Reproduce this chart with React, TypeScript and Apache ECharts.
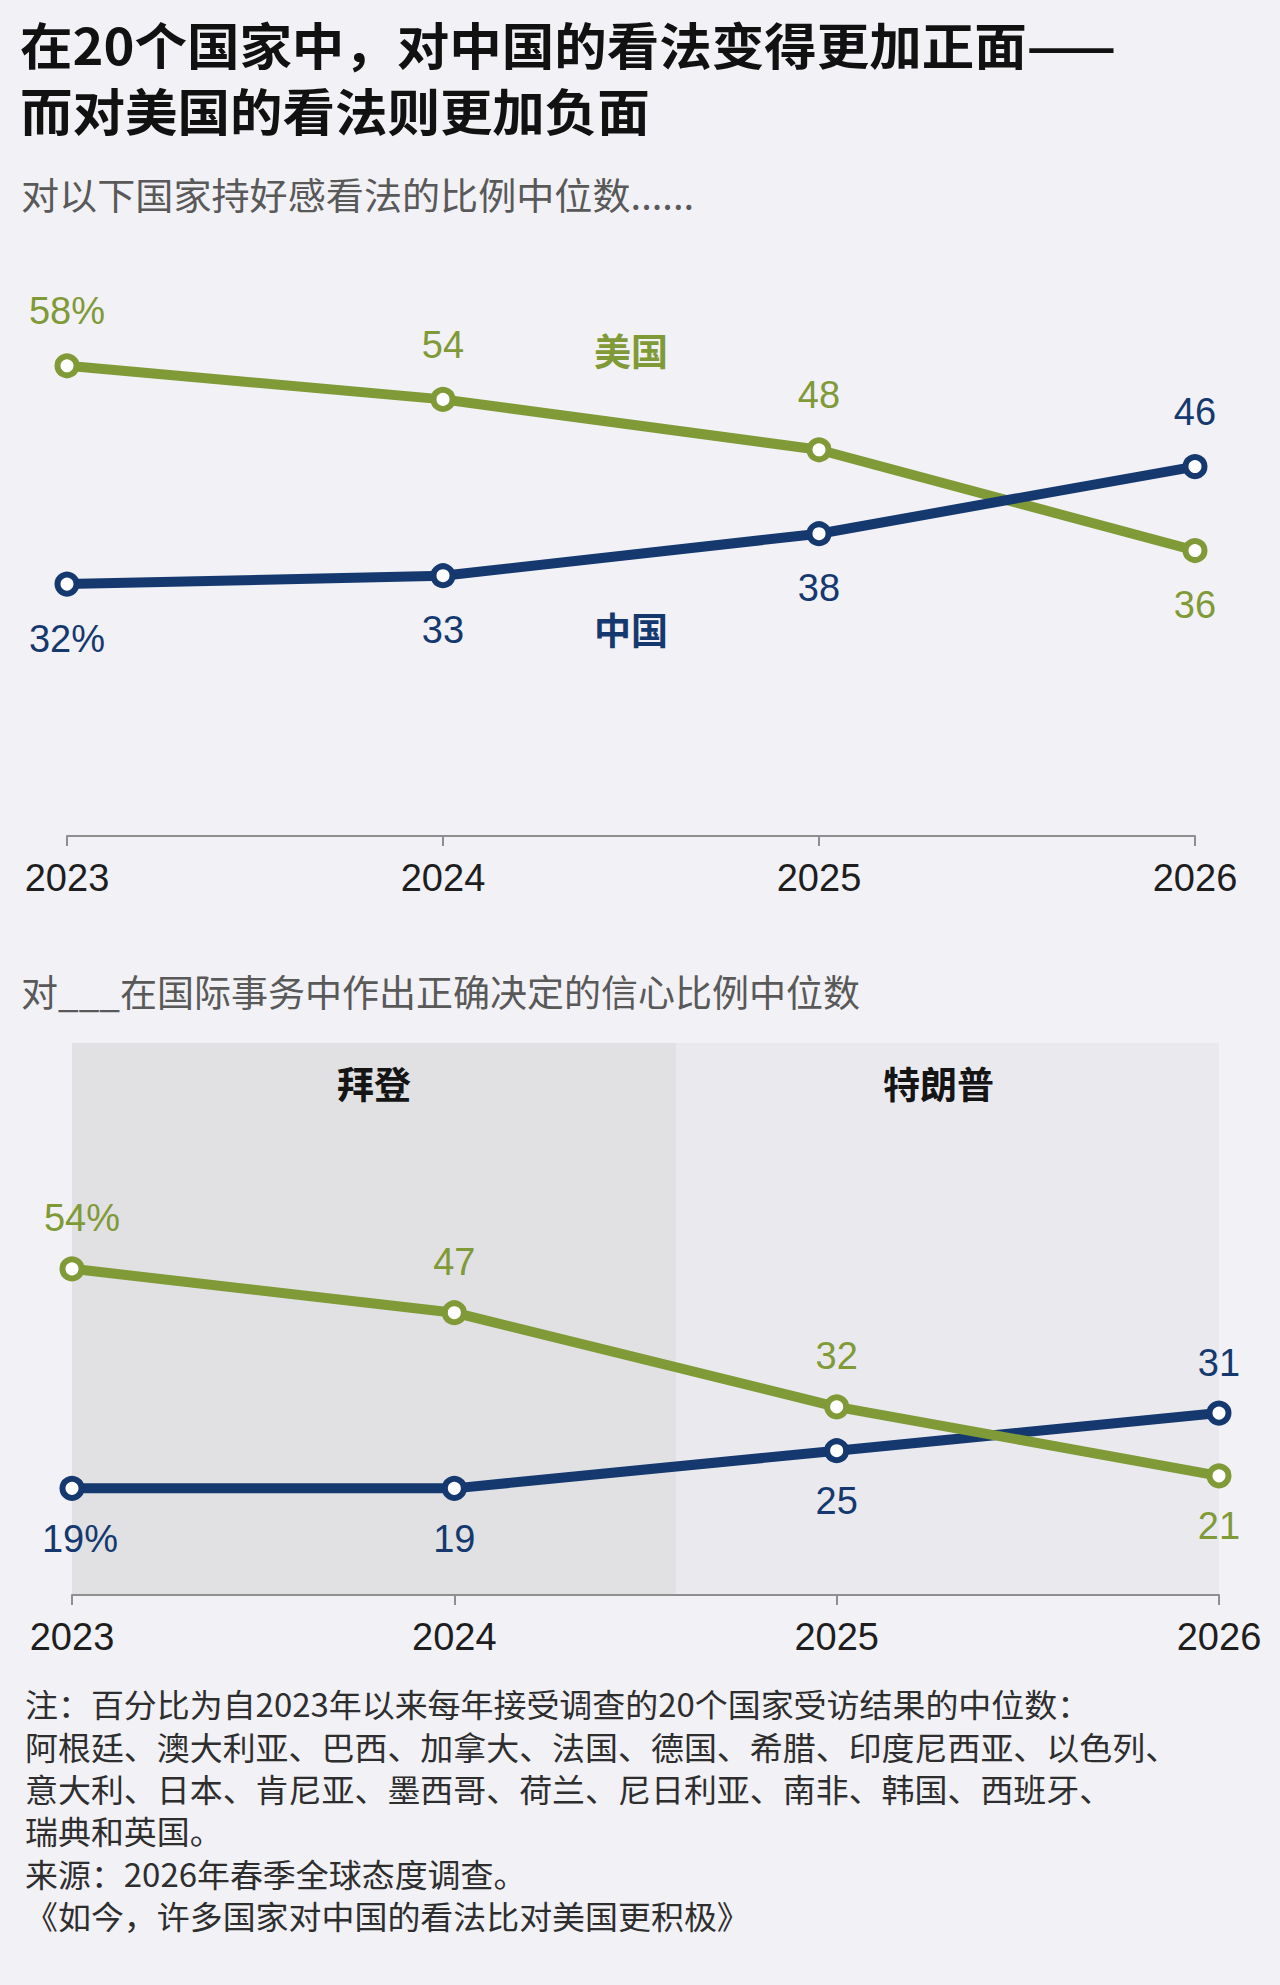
import React, { useEffect, useRef } from 'react';
import * as echarts from 'echarts';

// ---- data ----
const years = [2023, 2024, 2025, 2026];
const yearLabels = ['2023', '2024', '2025', '2026'];
const usFavorable = [58, 54, 48, 36];
const chinaFavorable = [32, 33, 38, 46];
const usConfidence = [54, 47, 32, 21];
const chinaConfidence = [19, 19, 25, 31];
const seriesNames = ['美国', '中国'];
const presidents = ['拜登', '特朗普'];
const termSplit = 2024.58;

const titleLines = ['在20个国家中，对中国的看法变得更加正面——', '而对美国的看法则更加负面'];
const subtitle1 = '对以下国家持好感看法的比例中位数......';
const subtitle2 = '对___在国际事务中作出正确决定的信心比例中位数';
const noteLines = [
  '注：百分比为自2023年以来每年接受调查的20个国家受访结果的中位数：',
  '阿根廷、澳大利亚、巴西、加拿大、法国、德国、希腊、印度尼西亚、以色列、',
  '意大利、日本、肯尼亚、墨西哥、荷兰、尼日利亚、南非、韩国、西班牙、',
  '瑞典和英国。',
  '来源：2026年春季全球态度调查。',
  '《如今，许多国家对中国的看法比对美国更积极》',
];

// ---- style ----
const GREEN = '#7f9a36';
const NAVY = '#15396f';
const BG = '#f2f1f6';
const AXIS = '#8f8f8f';
const NUM_FONT = '"Liberation Sans", Arial, sans-serif';
const CJK_FONT = '"Noto Sans CJK SC", sans-serif';

function lineSeries(
  name: string,
  vals: number[],
  color: string,
  positions: string[],
  gridIdx: number,
  dist: number,
  firstOffset: number[],
  z: number,
) {
  return {
    type: 'line',
    name,
    xAxisIndex: gridIdx,
    yAxisIndex: gridIdx,
    z,
    data: vals.map((v, i) => ({
      value: [years[i], v],
      label: { position: positions[i], offset: i === 0 ? firstOffset : [0, 0] },
    })),
    symbol: 'circle',
    symbolSize: 19,
    itemStyle: { color: '#ffffff', borderColor: color, borderWidth: 6 },
    lineStyle: { color, width: 10 },
    label: {
      show: true,
      distance: dist,
      color,
      fontSize: 38,
      fontFamily: NUM_FONT,
      formatter: (p: any) => (p.dataIndex === 0 ? p.value[1] + '%' : String(p.value[1])),
    },
  };
}

function xAxisDef(gridIndex: number) {
  return {
    gridIndex,
    type: 'value',
    min: years[0],
    max: years[years.length - 1],
    interval: 1,
    axisLine: { show: true, onZero: false, lineStyle: { color: AXIS, width: 2 } },
    axisTick: { show: true, length: 10, lineStyle: { color: AXIS, width: 2 } },
    splitLine: { show: false },
    axisLabel: {
      fontSize: 38,
      color: '#1e1e1e',
      margin: 23,
      fontFamily: NUM_FONT,
      showMinLabel: true,
      showMaxLabel: true,
      formatter: (v: number) => yearLabels[years.indexOf(v)] ?? '',
    },
  };
}

function textEl(text: string, x: number, y: number, size: number, color: string, weight = 'normal', scaleX = 1) {
  return {
    type: 'text',
    x,
    y,
    scaleX,
    style: {
      text,
      fontSize: size,
      fontWeight: weight,
      fontFamily: CJK_FONT,
      fill: color,
      align: 'left',
      verticalAlign: 'middle',
    },
  };
}

export default function App() {
  const ref = useRef<HTMLDivElement>(null);

  useEffect(() => {
    if (!ref.current) return;
    const chart = echarts.init(ref.current, undefined, { renderer: 'svg' });

    const graphics: any[] = [
      textEl(titleLines[0], 20, 44, 50, '#111111', 'bold', 1.05),
      textEl(titleLines[1], 20, 110, 50, '#111111', 'bold', 1.05),
      textEl(subtitle1, 21, 194, 37, '#595959', 'normal', 1.03),
      textEl(subtitle2, 21, 991, 37, '#595959'),
    ];
    noteLines.forEach((t, i) => {
      graphics.push(textEl(t, 25, 1703 + i * 42.4, 32, '#2e2e2e', 'normal', 1.03));
    });

    const usFav: any = lineSeries(seriesNames[0], usFavorable, GREEN, ['top', 'top', 'top', 'bottom'], 0, 23, [0, 0], 3);
    usFav.markPoint = {
      symbol: 'rect',
      symbolSize: 1,
      silent: true,
      itemStyle: { color: 'rgba(0,0,0,0)', borderWidth: 0 },
      label: { show: true, position: 'inside', fontSize: 37, fontWeight: 'bold', color: GREEN, fontFamily: CJK_FONT, formatter: seriesNames[0] },
      data: [{ coord: [2024.5, 59.9] }],
    };
    const cnFav: any = lineSeries(seriesNames[1], chinaFavorable, NAVY, ['bottom', 'bottom', 'bottom', 'top'], 0, 23, [0, 0], 4);
    cnFav.markPoint = {
      symbol: 'rect',
      symbolSize: 1,
      silent: true,
      itemStyle: { color: 'rgba(0,0,0,0)', borderWidth: 0 },
      label: { show: true, position: 'inside', fontSize: 37, fontWeight: 'bold', color: NAVY, fontFamily: CJK_FONT, formatter: seriesNames[1] },
      data: [{ coord: [2024.5, 26.6] }],
    };

    const cnConf: any = lineSeries(seriesNames[1], chinaConfidence, NAVY, ['bottom', 'bottom', 'bottom', 'top'], 1, 19, [8, 0], 3);
    cnConf.markArea = {
      silent: true,
      z: 0,
      label: {
        show: true,
        position: 'insideTop',
        distance: 21,
        fontSize: 37,
        fontWeight: 'bold',
        color: '#151515',
        fontFamily: CJK_FONT,
      },
      data: [
        [{ name: presidents[0], xAxis: years[0], itemStyle: { color: '#e1e1e3' } }, { xAxis: termSplit }],
        [
          { name: presidents[1], xAxis: termSplit, itemStyle: { color: '#eaeaee' }, label: { offset: [-9, 0] } },
          { xAxis: years[3] },
        ],
      ],
    };
    const usConf: any = lineSeries(seriesNames[0], usConfidence, GREEN, ['top', 'top', 'top', 'bottom'], 1, 19, [10, 0], 4);

    chart.setOption({
      animation: false,
      backgroundColor: BG,
      textStyle: { fontFamily: NUM_FONT },
      grid: [
        { left: 67, right: 85, top: 349, height: 487 },
        { left: 72, right: 61, top: 1043, height: 552 },
      ],
      xAxis: [xAxisDef(0), xAxisDef(1)],
      yAxis: [
        { gridIndex: 0, type: 'value', min: 2, max: 60, show: false },
        { gridIndex: 1, type: 'value', min: 2, max: 90, show: false },
      ],
      series: [usFav, cnFav, cnConf, usConf],
      graphic: graphics,
    });

    return () => chart.dispose();
  }, []);

  return (
    <div
      ref={ref}
      style={{ position: 'absolute', left: 0, top: 0, width: 1280, height: 1985, background: BG }}
    />
  );
}
